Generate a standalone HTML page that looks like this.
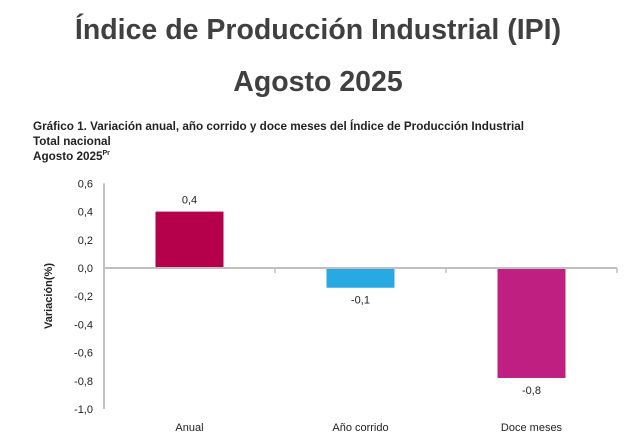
<!DOCTYPE html>
<html><head><meta charset="utf-8"><style>
body{margin:0;width:636px;height:439px;background:#fff;font-family:"Liberation Sans",sans-serif;overflow:hidden;position:relative}
.t{position:absolute;left:0;width:636px;text-align:center;font-weight:bold;color:#404040;font-size:28.5px}
.s{position:absolute;left:33px;font-size:11.7px;font-weight:bold;color:#222}
</style></head><body>
<div class="t" style="top:14px">Índice de Producción Industrial (IPI)</div>
<div class="t" style="top:66px">Agosto 2025</div>
<div class="s" style="top:120px">Gráfico 1. Variación anual, año corrido y doce meses del Índice de Producción Industrial</div>
<div class="s" style="top:135px">Total nacional</div>
<div class="s" style="top:150px">Agosto 2025<sup style="font-size:7px">Pr</sup></div>
<svg id="c" width="636" height="439" style="position:absolute;left:0;top:0" font-family="Liberation Sans, sans-serif"></svg>
<script>
const categories=["Anual","Año corrido","Doce meses"];
const values=[0.4,-0.14,-0.78];
const valueLabels=["0,4","-0,1","-0,8"];
const colors=["#B5004B","#29A9E1","#C01F82"];
const ticks=[0.6,0.4,0.2,0,-0.2,-0.4,-0.6,-0.8,-1.0];
const tickLabels=["0,6","0,4","0,2","0,0","-0,2","-0,4","-0,6","-0,8","-1,0"];
const svg=document.getElementById('c');const NS="http://www.w3.org/2000/svg";
const x0=104,x1=617,step=(x1-x0)/categories.length,bw=68;
const y=v=>268-v*141;
function mk(t,a,txt){const e=document.createElementNS(NS,t);for(const k in a)e.setAttribute(k,a[k]);if(txt!==undefined)e.textContent=txt;svg.appendChild(e);return e;}
let e=mk('line',{x1:x0,x2:x0,y1:y(0.6),y2:y(-1),stroke:'#bfbfbf','stroke-width':2});


ticks.forEach((t,i)=>{const l=mk('text',{x:93,y:y(t)+4,'text-anchor':'end','font-size':11,fill:'#222'},tickLabels[i]);

});
const ya=mk('text',{x:0,y:0,transform:'translate(52,296) rotate(-90)','text-anchor':'middle','font-size':11,'font-weight':'bold',fill:'#222'},'Variación(%)');


categories.forEach((c,i)=>{const cx=x0+step*(i+0.5),v=values[i];
const r=mk('rect',{x:cx-bw/2,y:Math.min(y(v),y(0)),width:bw,height:Math.abs(y(v)-y(0)),fill:colors[i]});


const vl=mk('text',{x:cx,y:v>=0?y(v)-8:y(v)+16,'text-anchor':'middle','font-size':11,fill:'#222'},valueLabels[i]);


const cl=mk('text',{x:cx,y:431,'text-anchor':'middle','font-size':11,fill:'#222'},c);


const tk=mk('line',{x1:x0+step*(i+1),x2:x0+step*(i+1),y1:y(0),y2:y(0)+5,stroke:'#bfbfbf','stroke-width':1.5});

});
const za=mk('line',{x1:x0,x2:x1,y1:y(0),y2:y(0),stroke:'#bfbfbf','stroke-width':2});


</script>
</body></html>
